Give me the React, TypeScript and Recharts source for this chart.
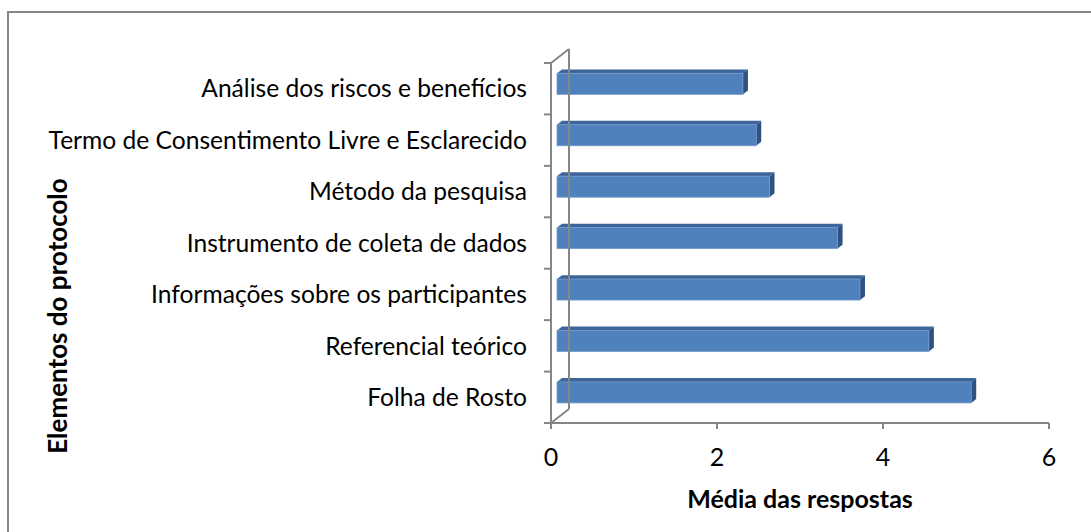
import { Bar, BarChart, Label, ReferenceLine, XAxis, YAxis } from "recharts";

const categories = [
	"Análise dos riscos e benefícios",
	"Termo de Consentimento Livre e Esclarecido",
	"Método da pesquisa",
	"Instrumento de coleta de dados",
	"Informações sobre os participantes",
	"Referencial teórico",
	"Folha de Rosto",
];
const means = [2.24, 2.4, 2.56, 3.38, 3.65, 4.48, 4.99];
const xTicks = [0, 2, 4, 6];

const data = categories.map((name, i) => ({ name, value: means[i] }));

const FONT = 'Lato, "Open Sans", sans-serif';
const GRID = "#868686";
// 3D depth of the chart box and of the bars
const DX = 18;
const DY = -14;

function Bar3D(props: any) {
	const { x, y, width, height } = props;
	if (width == null || height == null) return null;
	const fx = x + DX / 3;
	const fy = y + DY / 3;
	const bx = DX * 0.28;
	const by = DY * 0.28;
	return (
		<g>
			<polygon
				points={`${fx},${fy} ${fx + width},${fy} ${fx + width + bx},${fy + by} ${fx + bx},${fy + by}`}
				fill="#3d6599"
			/>
			<polygon
				points={`${fx + width},${fy} ${fx + width + bx},${fy + by} ${fx + width + bx},${fy + by + height} ${fx + width},${fy + height}`}
				fill="#2f5283"
			/>
			<rect x={fx} y={fy} width={width} height={height} fill="#4f81bd" stroke="#6f98cb" strokeWidth={0.8} />
		</g>
	);
}

function Frame(props: any) {
	const { x1, y1, y2 } = props;
	if (x1 == null) return null;
	const top = Math.min(y1, y2);
	const bottom = Math.max(y1, y2);
	const n = categories.length;
	const step = (bottom - top) / n;
	const ticks = Array.from({ length: n + 1 }, (_, i) => top + i * step);
	return (
		<g stroke={GRID} strokeWidth={2} fill="none">
			<line x1={x1} y1={top} x2={x1} y2={bottom + 6} />
			<line x1={x1 + DX} y1={top + DY} x2={x1 + DX} y2={bottom + DY} />
			<line x1={x1} y1={top} x2={x1 + DX} y2={top + DY} />
			<line x1={x1} y1={bottom} x2={x1 + DX} y2={bottom + DY} />
			{ticks.map((t, i) => (
				<line key={i} x1={x1 - 7} y1={t} x2={x1} y2={t} />
			))}
		</g>
	);
}

export default function App() {
	return (
		<div style={{ position: "absolute", left: 0, top: 0, width: 1091, height: 532, background: "#fff" }}>
			<div
				style={{
					position: "absolute",
					left: 7,
					top: 11,
					width: 1100,
					height: 540,
					border: `2px solid ${GRID}`,
					boxSizing: "border-box",
				}}
			/>
			<BarChart
				width={1091}
				height={532}
				data={data}
				layout="vertical"
				margin={{ top: 63, right: 42, left: 0, bottom: 0 }}
				style={{ position: "absolute", left: 0, top: 0 }}
			>
				<XAxis
					type="number"
					domain={[0, 6]}
					ticks={xTicks}
					height={109}
					axisLine={{ stroke: GRID, strokeWidth: 2 }}
					tickLine={{ stroke: GRID, strokeWidth: 2 }}
					tickSize={6}
					tickMargin={19}
					tick={{ fontSize: 25, fill: "#000", fontFamily: FONT }}
				>
					<Label
						content={({ viewBox }: any) => (
							<text
								x={viewBox.x + viewBox.width / 2}
								y={viewBox.y + 85}
								textAnchor="middle"
								fontFamily={FONT}
								fontWeight="bold"
								fontSize={25}
								fill="#000"
							>
								Média das respostas
							</text>
						)}
					/>
				</XAxis>
				<YAxis
					type="category"
					dataKey="name"
					width={551}
					axisLine={false}
					tickLine={false}
					tickSize={0}
					tickMargin={24}
					interval={0}
					tick={{ fontSize: 24.6, fill: "#000", fontFamily: FONT }}
				>
					<Label
						content={({ viewBox }: any) => {
							const cx = viewBox.x + 57;
							const cy = viewBox.y + 253;
							return (
								<text
									x={cx}
									y={cy}
									transform={`rotate(-90 ${cx} ${cy})`}
									textAnchor="middle"
									dominantBaseline="central"
									fontFamily={FONT}
									fontWeight="bold"
									fontSize={26}
									fill="#000"
								>
									Elementos do protocolo
								</text>
							);
						}}
					/>
				</YAxis>
				<ReferenceLine x={0} shape={(p: any) => <Frame {...p} />} />
				<Bar dataKey="value" barSize={21} shape={(p: any) => <Bar3D {...p} />} isAnimationActive={false} />
			</BarChart>
		</div>
	);
}
